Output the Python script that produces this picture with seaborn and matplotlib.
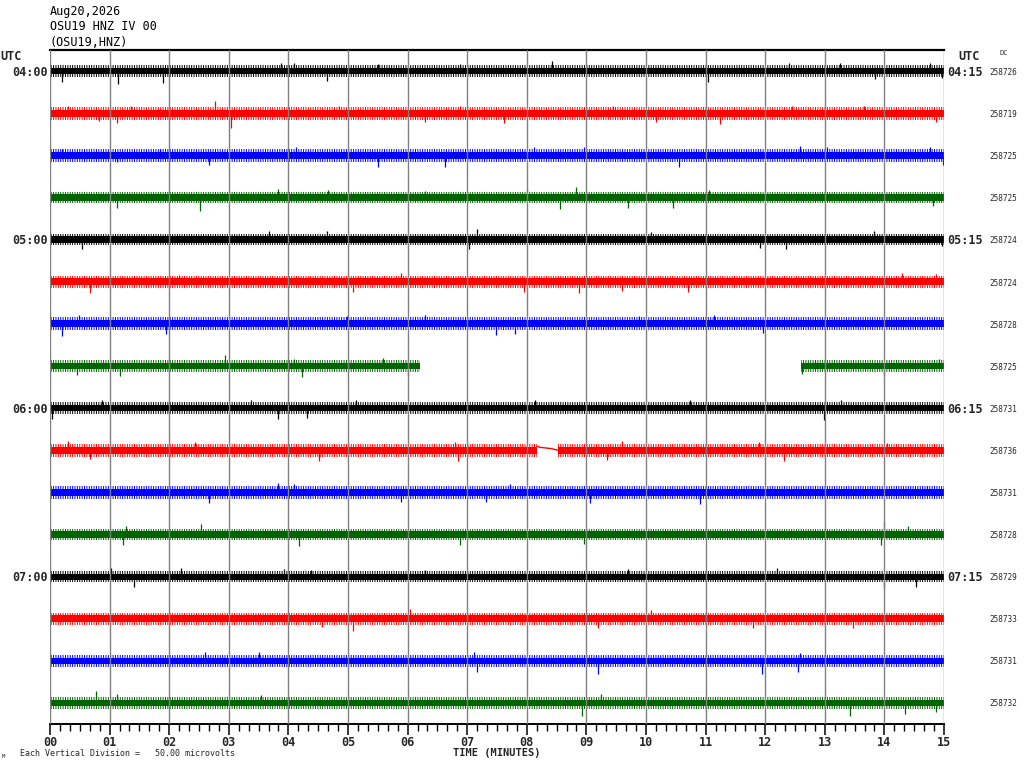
import numpy as np
import pandas as pd
import matplotlib
matplotlib.use("Agg")
import matplotlib.pyplot as plt
import seaborn as sns

# ---------------- data ----------------
header_lines = ["Aug20,2026", "OSU19 HNZ IV 00", "(OSU19,HNZ)"]
left_labels = ["04:00", "", "", "", "05:00", "", "", "", "06:00", "", "", "", "07:00", "", "", ""]
right_labels = ["04:15", "", "", "", "05:15", "", "", "", "06:15", "", "", "", "07:15", "", "", ""]
dc_values = ["258726", "258719", "258725", "258725", "258724", "258724", "258728", "258725",
             "258731", "258736", "258731", "258728", "258729", "258733", "258731", "258732"]
trace_colors = ["#000000", "#ff0000", "#0000ff", "#006400"] * 4
minute_ticks = list(range(16))
minute_labels = ["%02d" % m for m in minute_ticks]
uv_per_division = 50.0

# time intervals (minutes) where each trace has data
data_intervals = [[(0.0, 15.0)] for _ in range(16)]
data_intervals[7] = [(0.0, 6.2), (12.6, 15.0)]
data_intervals[9] = [(0.0, 8.17), (8.52, 15.0)]

# red 06:15 gap connector (minute, microvolts)
connector_t = [8.17, 8.22, 8.40, 8.52]
connector_uv = [4.8, 3.4, 2.0, 0.0]

# dense-noise half-width (microvolts) for each trace: solid core and typical fringe extent
core_uv = [3.8, 4.0, 4.0, 3.8, 3.8, 3.8, 4.0, 3.8, 3.8, 4.0, 4.0, 3.8, 3.6, 3.8, 3.8, 4.0]
fringe_uv = [7.0, 7.5, 7.5, 7.0, 7.0, 7.0, 7.5, 7.0, 7.0, 7.5, 7.5, 7.0, 6.8, 7.0, 7.0, 7.5]

# notable excursions per trace: minute positions and peak values (microvolts, + = up)
spike_t = [
    [0.20, 1.14, 1.90, 3.88, 4.09, 4.64, 5.51, 6.88, 8.43, 11.04, 12.40, 13.25, 13.85, 14.77, 14.97],
    [0.30, 0.83, 1.12, 1.36, 2.77, 3.03, 4.85, 6.30, 6.88, 7.61, 9.45, 10.17, 11.24, 12.45, 13.66, 14.87],
    [0.20, 1.12, 1.85, 2.67, 4.12, 5.51, 6.62, 8.12, 8.96, 10.56, 12.59, 13.03, 14.77, 14.99],
    [1.12, 2.51, 3.83, 4.66, 6.30, 8.00, 8.56, 8.82, 9.69, 10.45, 11.05, 14.82],
    [0.54, 3.67, 4.64, 7.03, 7.17, 10.08, 11.92, 12.35, 13.83, 14.97],
    [0.67, 2.16, 5.09, 5.89, 7.95, 8.87, 9.59, 10.71, 14.29, 14.87],
    [0.20, 0.49, 1.95, 4.99, 6.30, 7.49, 7.80, 9.88, 11.14, 11.97],
    [0.45, 1.17, 2.93, 4.09, 4.22, 5.58, 6.01, 12.61, 12.84, 14.00, 14.92],
    [0.03, 0.88, 3.38, 3.83, 4.32, 5.14, 8.14, 10.74, 12.98, 13.27],
    [0.30, 0.67, 2.43, 4.51, 6.80, 6.84, 9.35, 9.59, 11.90, 12.32, 14.05],
    [2.67, 3.83, 4.09, 5.89, 7.32, 7.71, 9.06, 10.90, 14.72],
    [1.22, 1.27, 2.53, 4.17, 6.88, 8.96, 13.95, 14.00, 14.39],
    [1.03, 1.41, 2.19, 3.93, 4.38, 6.30, 9.69, 12.20, 14.00, 14.53],
    [4.56, 5.09, 6.04, 9.20, 10.08, 11.80, 13.47],
    [2.60, 3.51, 7.12, 7.17, 9.19, 11.94, 12.55, 12.59],
    [0.78, 1.12, 3.54, 8.92, 9.25, 13.42, 14.34, 14.87],
]
spike_uv = [
    [-13, -15, -14, 9.5, 10, -12, 8, 8, 11.5, -13, 9, 10, -10, 9, -8],
    [9, -9.5, -12, 9, 15, -17, 9, -11, 9, -12, 9, -11, -12.5, 8, 9, -11],
    [7.5, -8, 7.5, -12, 9.5, -13.5, -14, 10, 10, -14, 11.5, 9.5, 10, -12],
    [-12.5, -16.5, 10, 9, 8, 10.5, -14, 12.7, -12, -12, 9, -10],
    [-11, 10.7, 10, -11, 12.7, 9, -10, -11, 10, -8],
    [-14, 8, -12, 10, -12, -13.5, -11, -12, 10, 9],
    [-14, 10, -11.5, 9, 10, -13.5, -11.5, 9, 10, -10.7],
    [-11, -12, 12.7, 8.7, -13.5, 9.5, -12, -10, 7, -12, 8.5],
    [-13, 9, 9, -13, -12, 9, 9, 9.5, -14, 9],
    [11, -11, 10, -12.7, 10, -12.7, -12, 11, 10, -12.7, 8.5],
    [-12.7, 11, 10, -12, -12, 10, -12.7, -13.5, 7],
    [-12.3, 10.5, 12, -14, -12, -11.5, -12.5, 15.5, 10.5],
    [10, -12, 10, 9, 8, 8, 9, 10, -14, -12],
    [-10, -15, 12, -11, 10, -11, -11],
    [10, 11, 11, -13.5, -15.5, -16, -12.7, 9.5],
    [14.7, 10.5, 9.5, -15, 10.5, -16, -13.5, -11],
]

# ---------------- layout helpers ----------------
W, H = 1024, 768


def fx(px):
    return px / W


def fy(py):
    return 1 - py / H


sns.set_theme(style="white")
plt.rcParams["font.family"] = ["DejaVu Sans Mono", "DejaVu Sans"]
plt.rcParams["hatch.linewidth"] = 0.7

fig = plt.figure(figsize=(W / 100, H / 100), dpi=100)
ax = fig.add_axes([fx(50), fy(724), fx(944) - fx(50), fy(50) - fy(724)])
ax.set_xlim(0, 15)
ax.set_ylim(15.5, -0.5)

# traces
for k in range(16):
    col = trace_colors[k]
    c = core_uv[k] / uv_per_division
    f = fringe_uv[k] / uv_per_division
    for (t0, t1) in data_intervals[k]:
        xs = [t0, t1]
        ax.fill_between(xs, [k - f] * 2, [k + f] * 2, facecolor="none", edgecolor=col,
                        hatch="|||||||", linewidth=0.0, zorder=2)
        ax.fill_between(xs, [k - c] * 2, [k + c] * 2, color=col, linewidth=0.0, zorder=2)
    ts = np.array(spike_t[k])
    vs = np.array(spike_uv[k]) / uv_per_division
    ax.vlines(ts, k, k - vs, color=col, linewidth=0.9, zorder=2)

# red gap connector
conn = pd.DataFrame({"t": connector_t, "row": [9 - v / uv_per_division for v in connector_uv]})
sns.lineplot(data=conn, x="t", y="row", color="#ff0000", linewidth=1.0, ax=ax, zorder=2)

# minute grid lines
for m in minute_ticks:
    ax.axvline(m, color="#808080", linewidth=1.0, zorder=3)

ax.set_xlabel("")
ax.set_ylabel("")
ax.set_yticks([])
ax.set_xticks(minute_ticks)
ax.set_xticklabels(minute_labels, fontsize=8.5, fontweight="bold")
ax.set_xticks(np.arange(0, 15.01, 1 / 6), minor=True)
ax.tick_params(axis="x", which="major", direction="out", length=8, width=1.1, color="black",
               pad=0.5, bottom=True)
ax.tick_params(axis="x", which="minor", direction="out", length=5, width=1.0, color="black",
               bottom=True)
for s in ["left", "right"]:
    ax.spines[s].set_visible(False)
ax.spines["top"].set_color("black")
ax.spines["top"].set_linewidth(1.6)
ax.spines["bottom"].set_color("black")
ax.spines["bottom"].set_linewidth(1.4)

# header
for i, line in enumerate(header_lines):
    fig.text(fx(50), fy(12 + 15 * i), line, fontsize=8.5, ha="left", va="center", color="black")

# side labels
row_px = [70.7 + 42.07 * k for k in range(16)]
fig.text(fx(0), fy(56), "UTC", fontsize=8.5, fontweight="bold", ha="left", va="center")
fig.text(fx(958), fy(56), "UTC", fontsize=8.5, fontweight="bold", ha="left", va="center")
fig.text(fx(1000), fy(53), "DC", fontsize=5, ha="left", va="center")
for k in range(16):
    if left_labels[k]:
        fig.text(fx(48), fy(row_px[k] + 2), left_labels[k], fontsize=8.5, fontweight="bold",
                 ha="right", va="center")
    if right_labels[k]:
        fig.text(fx(947), fy(row_px[k] + 2), right_labels[k], fontsize=8.5, fontweight="bold",
                 ha="left", va="center")
    fig.text(fx(989), fy(row_px[k] + 2), dc_values[k], fontsize=5.6, ha="left", va="center")

# bottom texts
fig.text(fx(453), fy(753), "TIME (MINUTES)", fontsize=7.5, fontweight="bold", ha="left", va="center")
fig.text(fx(20), fy(754), "Each Vertical Division =   50.00 microvolts", fontsize=6.0,
         ha="left", va="center")
fig.text(fx(2), fy(757), "M", fontsize=4, ha="left", va="center")

fig.savefig("out.png", dpi=100)
